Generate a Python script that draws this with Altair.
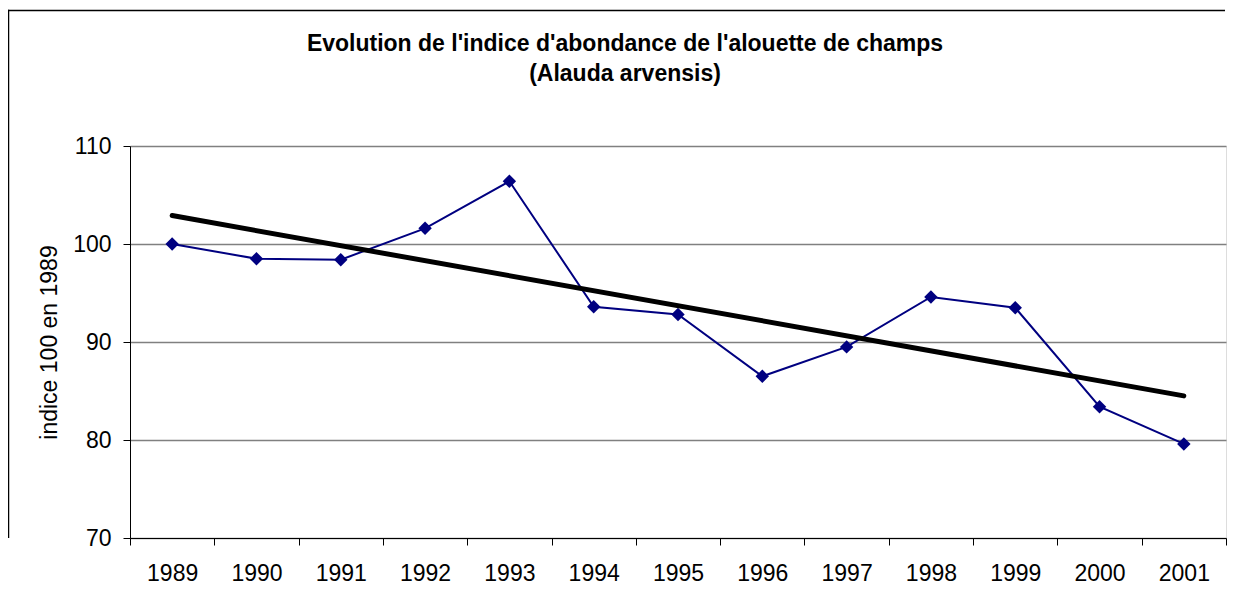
import altair as alt
import pandas as pd

# ---- data ----
years = [1989, 1990, 1991, 1992, 1993, 1994, 1995, 1996, 1997, 1998, 1999, 2000, 2001]
indice = [100.0, 98.5, 98.4, 101.6, 106.4, 93.6, 92.8, 86.5, 89.5, 94.6, 93.5, 83.4, 79.6]
trend_years = [1989, 2001]
trend_values = [102.9, 84.5]
y_tick_values = [70, 80, 90, 100, 110]
x_boundaries = [1988.5, 1989.5, 1990.5, 1991.5, 1992.5, 1993.5, 1994.5, 1995.5,
                1996.5, 1997.5, 1998.5, 1999.5, 2000.5, 2001.5]

title_lines = ["Evolution de l'indice d'abondance de l'alouette de champs", "(Alauda arvensis)"]
y_title = "indice 100 en 1989"

FONT = "Liberation Sans, Arial, sans-serif"
W, H = 1096, 392
PAD = {"left": 122, "top": 138, "right": 2, "bottom": 50}

df = pd.DataFrame({"annee": years, "indice": indice})
df_trend = pd.DataFrame({"annee": trend_years, "indice": trend_values})
df_one = pd.DataFrame({"k": [0]})

xscale = alt.Scale(domain=[x_boundaries[0], x_boundaries[-1]], nice=False, zero=False)
yscale = alt.Scale(domain=[70, 110], nice=False, zero=False)

y_axis = alt.Axis(values=y_tick_values, title=y_title, grid=True, gridColor="#808080",
                  gridWidth=1.5, domainColor="black", domainWidth=1, tickColor="black",
                  tickSize=7, labelPadding=12, labelFontSize=23, labelFont=FONT,
                  labelColor="black", titleFont=FONT, titleFontSize=23,
                  titleFontWeight="normal", titleColor="black", titlePadding=11)

x_label_axis = alt.Axis(values=years, format="d", ticks=False, tickSize=0, labelPadding=24,
                        labelFontSize=23, labelFont=FONT, labelColor="black", grid=False,
                        domain=True, domainColor="black", domainWidth=1, title=None,
                        orient="bottom", labelFlush=False, labelOverlap=False)

x_tick_axis = alt.Axis(values=x_boundaries, labels=False, ticks=True, tickSize=7,
                       tickColor="black", domain=False, grid=False, title=None,
                       orient="bottom")

# chart-area frame (only its left and top edges fall inside the window)
frame_left = alt.Chart(df_one).mark_rule(color="black", strokeWidth=1.5).encode(
    x=alt.value(-121.5), y=alt.value(-136.2), y2=alt.value(H)
)
frame_top = alt.Chart(df_one).mark_rule(color="black", strokeWidth=1.5).encode(
    x=alt.value(-122.2), x2=alt.value(W - 1), y=alt.value(-135.5)
)

line = alt.Chart(df).mark_line(color="#000080", strokeWidth=2).encode(
    x=alt.X("annee:Q", scale=xscale, axis=x_label_axis),
    y=alt.Y("indice:Q", scale=yscale, axis=y_axis),
)

points = alt.Chart(df).mark_point(shape="diamond", filled=True, size=180, color="#000080",
                                  opacity=1).encode(
    x=alt.X("annee:Q", scale=xscale, axis=None),
    y=alt.Y("indice:Q", scale=yscale, axis=y_axis),
)

trend = alt.Chart(df_trend).mark_line(color="black", strokeWidth=5, strokeCap="round").encode(
    x=alt.X("annee:Q", scale=xscale, axis=x_tick_axis),
    y=alt.Y("indice:Q", scale=yscale, axis=y_axis),
)

chart = alt.layer(frame_left, frame_top, line, points, trend).resolve_axis(
    x="independent"
).properties(
    width=W, height=H,
    autosize=alt.AutoSizeParams(type="none"),
    padding=PAD,
    title=alt.TitleParams(text=title_lines, font=FONT, fontSize=23, fontWeight="bold",
                          color="black", anchor="middle", frame="group", offset=0,
                          dx=-53, dy=77, lineHeight=30),
).configure_view(stroke="#808080", strokeWidth=1.5).configure(background="white")

chart.save("out.html", embed_options={"renderer": "svg", "actions": False})
